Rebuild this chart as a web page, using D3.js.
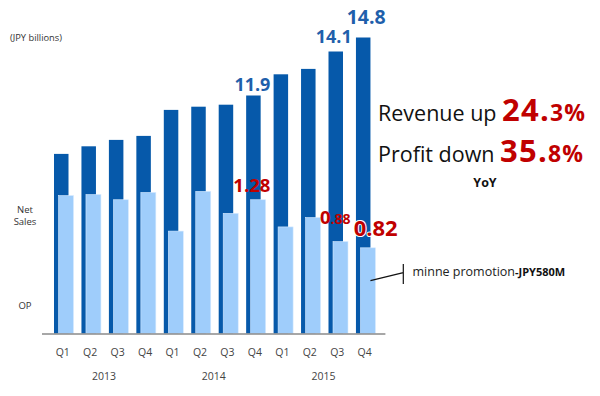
<!DOCTYPE html>
<html>
<head>
<meta charset="utf-8">
<script src="https://cdn.jsdelivr.net/npm/d3@7"></script>
<style>
  body { margin: 0; background: #fff; }
  text { font-family: "Open Sans", "Noto Sans", sans-serif; }
</style>
</head>
<body>
<div id="chart"></div>
<script>
// quarterly results, JPY billions
const quarters = ['Q1', 'Q2', 'Q3', 'Q4', 'Q1', 'Q2', 'Q3', 'Q4', 'Q1', 'Q2', 'Q3', 'Q4'];
const years = ['2013', '2014', '2015'];
const netSales = [8.98, 9.36, 9.68, 9.88, 11.18, 11.34, 11.44, 11.9, 12.96, 13.23, 14.1, 14.8];
const opProfit = [1.32, 1.33, 1.28, 1.35, 0.98, 1.36, 1.15, 1.28, 1.02, 1.11, 0.88, 0.82];
const salesLabels = [[7, '11.9'], [10, '14.1'], [11, '14.8']];
const opLabels = [[7, '1.28'], [10, '0.88'], [11, '0.82']];

const width = 600, height = 396;
const base = 333.5;

const svg = d3.select('#chart').append('svg')
    .attr('width', width)
    .attr('height', height);

const x = d3.scaleBand()
    .domain(d3.range(quarters.length))
    .range([47, 47 + 27.45 * quarters.length]);

const ySales = d3.scaleLinear().domain([0, 15]).range([base, base - 300]);
const yOp = d3.scaleLinear().domain([0, 3]).range([base, base - 313.5]);

const dark = '#0659aa', light = '#9fcdfb';
const red = '#c00000', blue = '#1f5fab';

// net sales bars (behind)
svg.append('g')
    .selectAll('rect')
    .data(netSales)
    .enter().append('rect')
    .attr('x', (d, i) => x(i) + 7)
    .attr('y', d => ySales(d))
    .attr('width', 14.5)
    .attr('height', d => base - ySales(d))
    .attr('fill', dark);

// operating profit bars (front)
svg.append('g')
    .selectAll('rect')
    .data(opProfit)
    .enter().append('rect')
    .attr('x', (d, i) => x(i) + 11.5)
    .attr('y', d => yOp(d))
    .attr('width', 15)
    .attr('height', d => base - yOp(d))
    .attr('fill', light)
    .attr('stroke', '#d6eaff')
    .attr('stroke-width', 0.6);

// baseline
svg.append('line')
    .attr('x1', x.range()[0] - 5)
    .attr('x2', x.range()[1] + 9)
    .attr('y1', base + 0.5)
    .attr('y2', base + 0.5)
    .attr('stroke', '#8a8a8a')
    .attr('stroke-width', 1.5);

// quarter labels
const axis = d3.axisBottom(x)
    .tickSize(0)
    .tickPadding(0)
    .tickFormat(i => quarters[i]);
const gx = svg.append('g')
    .attr('transform', `translate(0,${base + 15})`)
    .call(axis);
gx.select('.domain').remove();
gx.selectAll('text')
    .attr('font-family', '"Open Sans", sans-serif')
    .attr('font-size', 10.5)
    .attr('fill', '#444')
    .attr('dx', 2);

// year labels
svg.append('g')
    .selectAll('text')
    .data(years)
    .enter().append('text')
    .attr('x', (d, i) => x(i * 4) + x.step() * 2 + 2)
    .attr('y', base + 46)
    .attr('text-anchor', 'middle')
    .attr('font-size', 10.5)
    .attr('fill', '#444')
    .text(d => d);

// sales value labels
const salesOffsets = { 7: [-1, -5, 18], 10: [-2, -9, 18], 11: [3, -14, 19.5] };
svg.append('g')
    .selectAll('text')
    .data(salesLabels)
    .enter().append('text')
    .attr('x', d => x(d[0]) + 14.25 + salesOffsets[d[0]][0])
    .attr('y', d => ySales(netSales[d[0]]) + salesOffsets[d[0]][1])
    .attr('text-anchor', 'middle')
    .attr('font-weight', 'bold')
    .attr('font-size', d => salesOffsets[d[0]][2])
    .attr('fill', blue)
    .text(d => d[1]);

// op value labels
const opOffsets = { 7: [-1, -8], 10: [0, -18], 11: [13, -12] };
const opText = svg.append('g')
    .selectAll('text')
    .data(opLabels)
    .enter().append('text')
    .attr('x', d => x(d[0]) + x.step() / 2 + opOffsets[d[0]][0])
    .attr('y', d => yOp(opProfit[d[0]]) + opOffsets[d[0]][1])
    .attr('text-anchor', 'middle')
    .attr('font-weight', 'bold')
    .attr('fill', red)
    .attr('paint-order', 'stroke')
    .attr('stroke', d => d[0] === 11 ? '#fff' : 'none')
    .attr('stroke-width', 2);
opText.each(function(d) {
    const t = d3.select(this);
    if (d[0] === 10) {
        t.append('tspan').attr('font-size', 18.5).text(d[1].slice(0, 1));
        t.append('tspan').attr('font-size', 14).text(d[1].slice(1));
    } else {
        t.append('tspan').attr('font-size', d[0] === 11 ? 22 : 18.5).text(d[1]);
    }
});

// left notes
svg.append('text')
    .attr('x', 10).attr('y', 41)
    .attr('font-size', 9.3).attr('fill', '#333')
    .text('(JPY billions)');
svg.append('text')
    .attr('x', 25).attr('y', 213)
    .attr('text-anchor', 'middle')
    .attr('font-size', 9.5).attr('fill', '#333')
    .text('Net');
svg.append('text')
    .attr('x', 25).attr('y', 225)
    .attr('text-anchor', 'middle')
    .attr('font-size', 9.5).attr('fill', '#333')
    .text('Sales');
svg.append('text')
    .attr('x', 25).attr('y', 308.5)
    .attr('text-anchor', 'middle')
    .attr('font-size', 9.5).attr('fill', '#333')
    .text('OP');

// YoY summary
const rev = svg.append('text').attr('x', 378).attr('y', 121);
rev.append('tspan').attr('font-size', 21.5).attr('fill', '#111').text('Revenue up ');
rev.append('tspan').attr('font-size', 31).attr('font-weight', 'bold').attr('fill', red)
    .attr('letter-spacing', 1.2).text('24.');
rev.append('tspan').attr('font-size', 23).attr('font-weight', 'bold').attr('fill', red)
    .attr('letter-spacing', 1.2).text('3%');

const prof = svg.append('text').attr('x', 378).attr('y', 162);
prof.append('tspan').attr('font-size', 21.5).attr('fill', '#111').text('Profit down ');
prof.append('tspan').attr('font-size', 31).attr('font-weight', 'bold').attr('fill', red)
    .attr('letter-spacing', 1.2).text('35.');
prof.append('tspan').attr('font-size', 23).attr('font-weight', 'bold').attr('fill', red)
    .attr('letter-spacing', 1.2).text('8%');

svg.append('text')
    .attr('x', 485).attr('y', 187)
    .attr('text-anchor', 'middle')
    .attr('font-size', 12.5).attr('font-weight', 'bold').attr('fill', '#111')
    .text('YoY');

// minne promotion note
const lastX = x(11) + 11.5 + 10;
svg.append('path')
    .attr('d', `M${lastX},${280.7}L${403.3},${272.7}M${403.3},264V284`)
    .attr('stroke', '#111')
    .attr('stroke-width', 1.2)
    .attr('fill', 'none');
const note = svg.append('text').attr('x', 412.5).attr('y', 276);
note.append('tspan').attr('font-size', 12.5).attr('fill', '#222').text('minne promotion');
note.append('tspan').attr('font-size', 11).attr('font-weight', 'bold').attr('fill', '#111').text('-JPY580M');
</script>
</body>
</html>
